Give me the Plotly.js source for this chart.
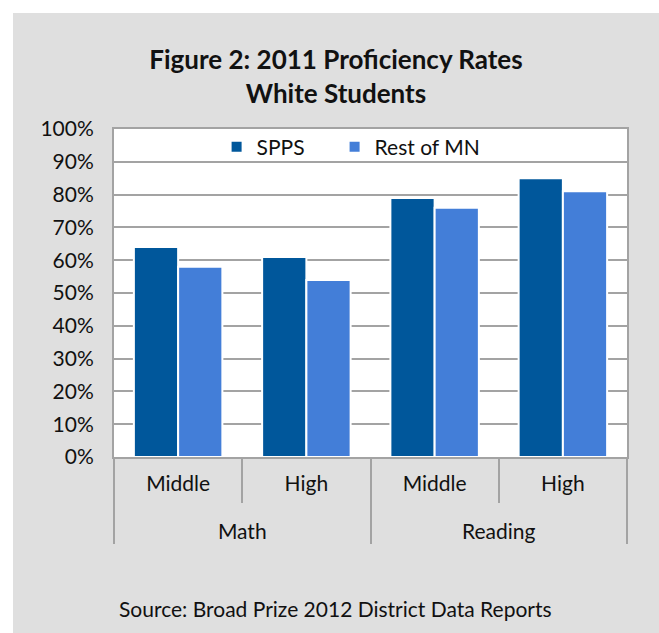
<!DOCTYPE html>
<html>
<head>
<meta charset="utf-8">
<script src="https://cdn.plot.ly/plotly-3.0.1.min.js"></script>
<style>
  html, body { margin: 0; padding: 0; background: #ffffff; }
  #chart { position: absolute; left: 13px; top: 13px; width: 646px; height: 620px; }
</style>
</head>
<body>
<div id="chart"></div>
<script>
const subjects = ["Math", "Math", "Reading", "Reading"];
const levels = ["Middle", "High", "Middle", "High"];
const seriesNames = ["SPPS", "Rest of MN"];
const sppsValues = [64, 61, 79, 85];
const restValues = [58, 54, 76, 81];
const titleLines = ["Figure 2: 2011 Proficiency Rates", "White Students"];
const sourceText = "Source: Broad Prize 2012 District Data Reports";

const FONT = "Lato, 'Open Sans', sans-serif";
const GRID = "#a3a3a3";

// outer (subject) labels sit one text line lower than Plotly's default
const outerLabels = subjects.map(s => "<br>" + s);

const traces = [
  {
    type: "bar",
    name: seriesNames[0],
    x: [outerLabels, levels],
    y: sppsValues,
    marker: { color: "#00579b", line: { color: "#ffffff", width: 2 } },
    legend: "legend",
    hoverinfo: "skip"
  },
  {
    type: "bar",
    name: seriesNames[1],
    x: [outerLabels, levels],
    y: restValues,
    marker: { color: "#437ed8", line: { color: "#ffffff", width: 2 } },
    legend: "legend2",
    hoverinfo: "skip"
  }
];

const legendBase = {
  orientation: "h",
  xanchor: "left",
  y: 0.945, yanchor: "middle",
  bgcolor: "rgba(0,0,0,0)",
  font: { family: FONT, size: 21, color: "#111111" }
};

const layout = {
  width: 646,
  height: 620,
  paper_bgcolor: "#dfdfdf",
  plot_bgcolor: "#ffffff",
  margin: { l: 101, r: 32, t: 116, b: 176 },
  font: { family: FONT, size: 21, color: "#111111" },
  title: {
    text: "<b>" + titleLines.join("<br>") + "</b>",
    font: { family: FONT, size: 26, color: "#111111" },
    x: 0.5, xref: "container", xanchor: "center",
    y: 1 - 56 / 620, yref: "container", yanchor: "middle"
  },
  barmode: "group",
  bargap: 0.31,
  bargroupgap: 0.0,
  showlegend: true,
  legend: Object.assign({}, legendBase, { x: 0.2 }),
  legend2: Object.assign({}, legendBase, { x: 0.43 }),
  xaxis: {
    type: "multicategory",
    showline: true, mirror: true, linecolor: GRID, linewidth: 2,
    ticks: "outside", tickson: "boundaries", ticklen: 44, tickcolor: GRID, tickwidth: 2,
    showdividers: true, dividercolor: GRID, dividerwidth: 2,
    ticklabelstandoff: 7,
    tickfont: { family: FONT, size: 21, color: "#111111" },
    showgrid: false, fixedrange: true
  },
  yaxis: {
    range: [0, 100],
    dtick: 10,
    ticksuffix: "%",
    showline: true, mirror: true, linecolor: GRID, linewidth: 2,
    showgrid: true, gridcolor: GRID, gridwidth: 2,
    zeroline: false,
    ticks: "",
    ticklabelstandoff: 14,
    tickfont: { family: FONT, size: 21, color: "#111111" },
    fixedrange: true
  },
  annotations: [
    {
      text: sourceText,
      xref: "paper", yref: "paper",
      x: 0.431, y: -(595 - 444) / 328,
      xanchor: "center", yanchor: "middle",
      showarrow: false,
      font: { family: FONT, size: 21, color: "#111111" }
    }
  ]
};

Plotly.newPlot("chart", traces, layout, { staticPlot: true, displayModeBar: false });
</script>
</body>
</html>
